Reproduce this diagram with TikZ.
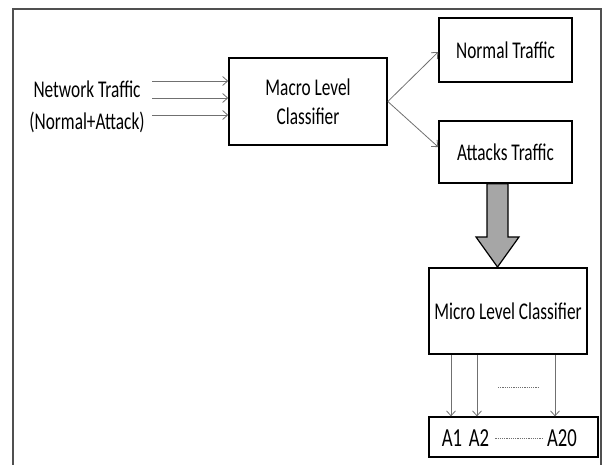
\documentclass[tikz,border=0pt]{standalone}
\usepackage{fontspec}
\setmainfont{Carlito}[FakeStretch=0.72]
\usetikzlibrary{arrows.meta,calc}
\definecolor{framegray}{HTML}{505050}
\definecolor{linegray}{HTML}{707070}
\definecolor{blockgray}{HTML}{A6A6A6}
\begin{document}
\begin{tikzpicture}[x=1pt,y=-1pt,
  box/.style={draw=black,line width=1.6pt,rectangle,inner sep=0pt,align=center,
    font=\fontsize{24}{29}\selectfont},
  lbl/.style={inner sep=0pt,align=center,font=\fontsize{24}{32}\selectfont},
  albl/.style={inner sep=0pt,font=\fontsize{26}{30}\selectfont},
  arr/.style={draw=linegray,line width=0.8pt,-{Straight Barb[length=5pt,width=9pt]}},
  dots/.style={draw=linegray,line width=0.6pt,dash pattern=on 1.2pt off 1pt}]
\useasboundingbox (0,0) rectangle (605,464);
% outer frame
\draw[framegray,line width=1.6pt] (13,480) -- (13,9) -- (601,9) -- (601,480);
% nodes
\node[lbl] (src) at (87,107) {Network Traffic\\(Normal+Attack)};
\node[box,minimum width=158pt,minimum height=87pt] (macro) at (308,101.5) {Macro Level\\Classifier};
\node[box,minimum width=133pt,minimum height=64pt] (normal) at (505.5,50) {Normal Traffic};
\node[box,minimum width=133pt,minimum height=62pt] (attacks) at (505.5,152) {Attacks Traffic};
\node[box,minimum width=158pt,minimum height=86pt] (micro) at (508,311) {Micro Level Classifier};
\node[box,line width=1.2pt,minimum width=169pt,minimum height=40pt] (abox) at (513.5,437) {};
\node[albl] (a1) at (452,438) {A1};
\node[albl] (a2) at (479,438) {A2};
\node[albl] (a20) at (562,438) {A20};
% input arrows
\coordinate (s1) at (152,81);
\coordinate (s2) at (152,98);
\coordinate (s3) at (152,115);
\draw[arr] (s1) -- (s1 -| macro.west);
\draw[arr] (s2) -- (s2 -| macro.west);
\draw[arr] (s3) -- (s3 -| macro.west);
% outputs of macro
\draw[arr] (macro.east) -- ([yshift=-2pt]normal.west);
\draw[arr] (macro.east) -- ([yshift=5pt]attacks.west);
% block arrow
\coordinate (tip) at (497.5,267);
\draw[black,line width=1.2pt,fill=blockgray,line join=miter]
  (attacks.south -| 487,0) -- (487,237) -- (476,237) -- (tip) -- (519,237) -- (508,237) -- (attacks.south -| 508,0) -- cycle;
% micro outputs
\coordinate (m1) at (451,0);
\coordinate (m2) at (477,0);
\coordinate (m3) at (555,0);
\draw[arr] (m1 |- micro.south) -- (m1 |- abox.north);
\draw[arr] (m2 |- micro.south) -- (m2 |- abox.north);
\draw[arr] (m3 |- micro.south) -- (m3 |- abox.north);
\coordinate (d1) at (498,387);
\coordinate (d2) at (539,387);
\draw[dots] (d1) -- (d2);
\draw[dots] ([xshift=6pt]a2.east |- a2.center) -- ([xshift=-5pt]a20.west |- a20.center);
\end{tikzpicture}
\end{document}
